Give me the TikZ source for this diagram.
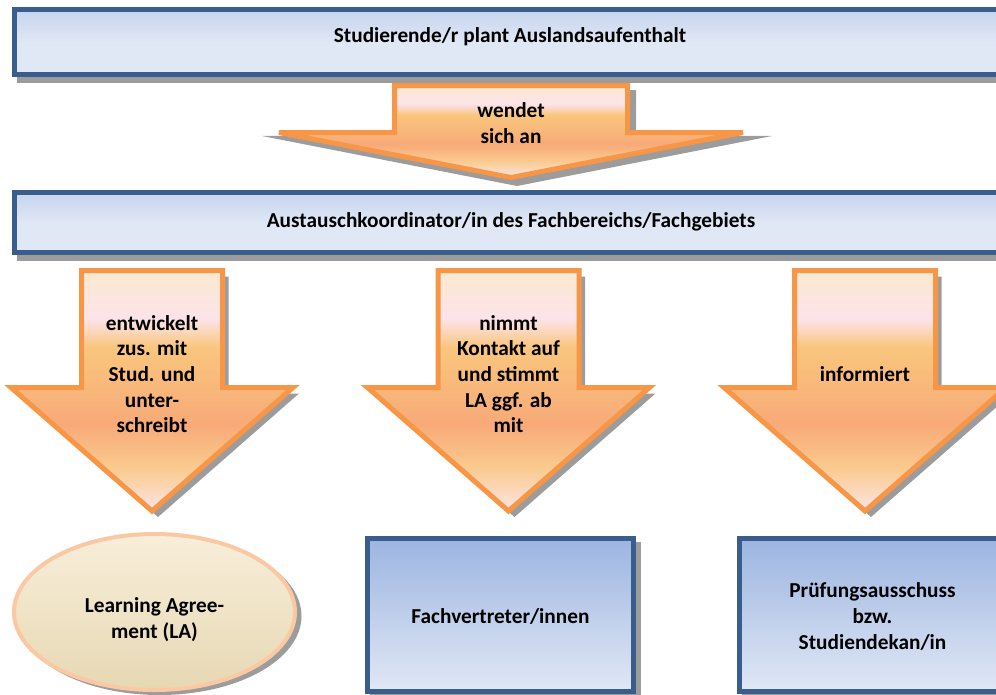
\documentclass[tikz,border=0pt]{standalone}
\usepackage{fontspec}
\setmainfont{Carlito}
\usetikzlibrary{shapes.geometric}
\definecolor{bord}{HTML}{3A5E8C}
\definecolor{orstroke}{HTML}{F79646}
\definecolor{shad}{HTML}{9C9C9C}
\definecolor{pa}{HTML}{FBE9CF}
\definecolor{pb}{HTML}{FCE3EA}
\definecolor{pc}{HTML}{F9C67D}
\definecolor{pd}{HTML}{F8AA78}
\definecolor{pe}{HTML}{FACA8E}
\definecolor{pf}{HTML}{FCE5E6}
\pgfdeclareverticalshading{peach}{100bp}{color(0bp)=(pf); color(25bp)=(pf); color(34bp)=(pe); color(43bp)=(pd); color(59bp)=(pc); color(65bp)=(pb); color(75bp)=(pa); color(100bp)=(pa)}
\definecolor{lba}{HTML}{C6D4EE}
\definecolor{lbb}{HTML}{E0E7F5}
\pgfdeclareverticalshading{paleblue}{100bp}{color(0bp)=(lbb); color(50bp)=(lbb); color(75bp)=(lba); color(100bp)=(lba)}
\definecolor{mba}{HTML}{9CB5E1}
\definecolor{mbb}{HTML}{E1E8F5}
\definecolor{ela}{HTML}{F8EEDA}
\definecolor{elb}{HTML}{E7D8B3}
\definecolor{elr}{HTML}{FAC9A4}
\pgfdeclarelayer{bg}
\pgfsetlayers{bg,main}
\newcommand\downarrowpath[1]{({#1-70.5},270.5) -- ({#1+70.5},270.5) -- ({#1+70.5},387.5) -- ({#1+141},387.5) -- (#1,511) -- ({#1-141},387.5) -- ({#1-70.5},387.5) -- cycle}
\newcommand\widearrowpath{(394.5,85.5) -- (627.5,85.5) -- (627.5,132.5) -- (743,132.5) -- (511,177.5) -- (279,132.5) -- (394.5,132.5) -- cycle}
\tikzset{
  txt/.style={font=\bfseries\fontsize{21.3}{25.7}\selectfont, align=center, anchor=base, inner sep=0pt, text=black},
  bandbox/.style={rectangle, draw=bord, line width=5pt, shade, shading=paleblue, minimum width=991pt, inner sep=0pt},
  bigbox/.style={rectangle, draw=bord, line width=5pt, top color=mba, bottom color=mbb, minimum width=266pt, minimum height=153pt, inner sep=0pt},
  arrowbody/.style={draw=orstroke, line width=5pt, line join=miter, shade, shading=peach},
  shadowfill/.style={fill=shad, draw=none}
}
\begin{document}
\begin{tikzpicture}[x=1pt, y=-1pt]
\useasboundingbox (0,0) rectangle (996,694);
% boxes
\node[bandbox, minimum height=65pt] (top) at (510,42) {};
\node[bandbox, minimum height=60pt] (coord) at (510,222.5) {};
\node[bigbox] (fach) at (500.5,615) {};
\node[bigbox] (pruef) at (872.5,615) {};
\node[ellipse, draw=elr, line width=4pt, top color=ela, bottom color=elb, minimum width=281pt, minimum height=156pt, inner sep=0pt] (la) at (154.5,612) {};
% shadows
\begin{pgfonlayer}{bg}
\fill[shadowfill] ([shift={(5,6)}]top.south west) rectangle ([shift={(5,6)}]top.north east);
\fill[shadowfill] ([shift={(5,6)}]coord.south west) rectangle ([shift={(5,6)}]coord.north east);
\fill[shadowfill] ([shift={(5,6)}]fach.south west) rectangle ([shift={(5,6)}]fach.north east);
\fill[shadowfill] ([shift={(5,6)}]pruef.south west) rectangle ([shift={(5,6)}]pruef.north east);
\fill[shadowfill] ([shift={(5,4)}]la.center) ellipse [x radius=142pt, y radius=79pt];
\fill[shadowfill] (399,90) -- (636,90) -- (636,135) -- (772,136) -- (517,186) -- (262,136) -- (399,135) -- cycle;
\end{pgfonlayer}
% arrows
\fill[shadowfill, shift={(6,6)}] \downarrowpath{152};
\fill[shadowfill, shift={(6,6)}] \downarrowpath{508.5};
\fill[shadowfill, shift={(6,6)}] \downarrowpath{865};
\path[arrowbody] \widearrowpath;
\path[arrowbody] \downarrowpath{152};
\path[arrowbody] \downarrowpath{508.5};
\path[arrowbody] \downarrowpath{865};
% texts
\node[txt] (t1) at (510,42.7) {Studierende/r plant Auslandsaufenthalt};
\node[txt] (t2) at (511,143) {wendet\\sich an};
\node[txt] (t3) at (511,227) {Austauschkoordinator/in des Fachbereichs/Fachgebiets};
\node[txt] (t4) at (152,432.8) {entwickelt\\zus. mit\\Stud. und\\unter-\\schreibt};
\node[txt] (t5) at (508.5,432.8) {nimmt\\Kontakt auf\\und stimmt\\LA ggf. ab\\mit};
\node[txt] (t6) at (865,381.5) {informiert};
\node[txt] (t7) at (154.5,638) {Learning Agree-\\ment (LA)};
\node[txt] (t8) at (500.5,623) {Fachvertreter/innen};
\node[txt] (t9) at (872.5,649) {Prüfungsausschuss\\bzw.\\Studiendekan/in};
\end{tikzpicture}
\end{document}
